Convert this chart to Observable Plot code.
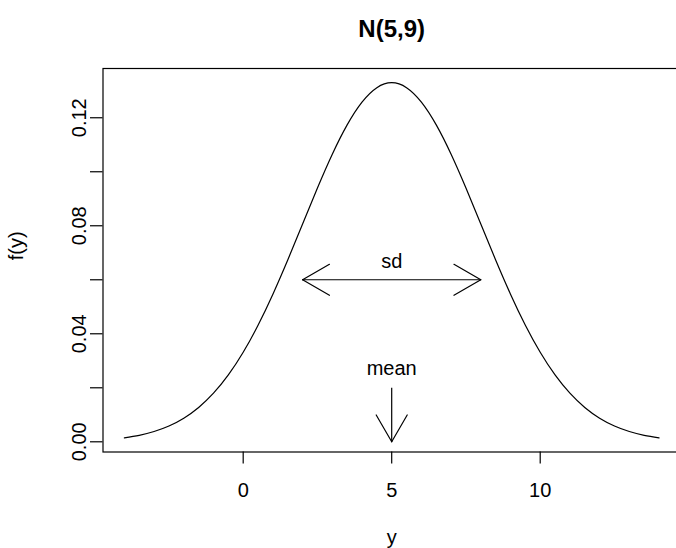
<!DOCTYPE html>
<html><head><meta charset="utf-8">
<script src="https://cdn.jsdelivr.net/npm/d3@7"></script>
<script src="https://cdn.jsdelivr.net/npm/@observablehq/plot@0.6"></script>
<style>body{margin:0;background:#fff;overflow:hidden} svg{display:block}</style>
</head><body><div id="chart"></div>
<script>
const title = "N(5,9)";
const xLabel = "y";
const yLabel = "f(y)";
const xValues = [-4,-3.5,-3,-2.5,-2,-1.5,-1,-0.5,0,0.5,1,1.5,2,2.5,3,3.5,4,4.5,5,5.5,6,6.5,7,7.5,8,8.5,9,9.5,10,10.5,11,11.5,12,12.5,13,13.5,14];
const density = [0.00148,0.00240,0.00380,0.00584,0.00874,0.01272,0.01800,0.02477,0.03316,0.04317,0.05467,0.06733,0.08066,0.09397,0.10648,0.11735,0.12579,0.13115,0.13298,0.13115,0.12579,0.11735,0.10648,0.09397,0.08066,0.06733,0.05467,0.04317,0.03316,0.02477,0.01800,0.01272,0.00874,0.00584,0.00380,0.00240,0.00148];
const xTicks = [0, 5, 10];
const yTicks = [0, 0.02, 0.04, 0.06, 0.08, 0.10, 0.12];
const yTickLabels = [0, 0.04, 0.08, 0.12];
const xDomain = [-4.72, 14.72];
const yDomain = [-0.00378, 0.13824];
const sdEnds = [2, 8];
const sdLevel = 0.06;
const sdText = {label: "sd", x: 5, y: 0.0644};
const meanValue = 5;
const meanArrowTop = 0.02;
const meanText = {label: "mean", x: 5, y: 0.0246};

const curveData = xValues.map((x, i) => ({x, y: density[i]}));
const barbs = [
  {x: sdEnds[0], y: sdLevel, r: 60}, {x: sdEnds[0], y: sdLevel, r: 120},
  {x: sdEnds[1], y: sdLevel, r: -60}, {x: sdEnds[1], y: sdLevel, r: -120},
  {x: meanValue, y: 0, r: -30}, {x: meanValue, y: 0, r: 30}
];
const lineShape = {draw(context, l) { context.moveTo(0, 0); context.lineTo(0, -l); }};

const chart = Plot.plot({
  width: 676,
  height: 548,
  marginLeft: 102.5,
  marginRight: -3.9,
  marginTop: 68,
  marginBottom: 96.5,
  style: {fontFamily: "'Liberation Sans', Arial, Helvetica, sans-serif", fontSize: "20px", background: "#fff", color: "#000"},
  x: {domain: xDomain},
  y: {domain: yDomain},
  marks: [
    Plot.frame({stroke: "#000", strokeWidth: 1.2}),
    Plot.axisX({ticks: xTicks, tickSize: 12, tickFormat: () => "", label: null, strokeWidth: 1.2}),
    Plot.axisY({ticks: yTicks, tickSize: 12.5, tickFormat: () => "", label: null, strokeWidth: 1.2}),
    Plot.text(xTicks, {x: d => d, frameAnchor: "bottom", dy: 45, lineAnchor: "bottom", text: d => String(d), fontSize: 20}),
    Plot.text(yTickLabels, {y: d => d, frameAnchor: "left", dx: -16.8, rotate: -90, lineAnchor: "bottom", textAnchor: "middle", text: d => d.toFixed(2), fontSize: 20}),
    Plot.text([xLabel], {frameAnchor: "bottom", dy: 92.2, lineAnchor: "bottom", text: d => d, fontSize: 20}),
    Plot.text([yLabel], {frameAnchor: "left", dx: -86.5, rotate: -90, lineAnchor: "middle", text: d => d, fontSize: 20}),
    Plot.text([title], {frameAnchor: "top", dy: -32, lineAnchor: "bottom", text: d => d, fontSize: 24, fontWeight: "bold"}),
    Plot.line(curveData, {x: "x", y: "y", curve: "natural", stroke: "#000", strokeWidth: 1.2}),
    Plot.link([{x1: sdEnds[0], x2: sdEnds[1], y: sdLevel}], {x1: "x1", x2: "x2", y1: "y", y2: "y", stroke: "#000", strokeWidth: 1.2}),
    Plot.link([{x: meanValue, y1: meanArrowTop, y2: 0}], {x1: "x", x2: "x", y1: "y1", y2: "y2", stroke: "#000", strokeWidth: 1.2}),
    Plot.vector(barbs, {x: "x", y: "y", rotate: "r", length: 31, anchor: "start", shape: lineShape, stroke: "#000", strokeWidth: 1.2}),
    Plot.text([sdText], {x: "x", y: "y", text: "label", lineAnchor: "bottom", fontSize: 20}),
    Plot.text([meanText], {x: "x", y: "y", text: "label", lineAnchor: "bottom", fontSize: 20})
  ]
});
document.getElementById("chart").appendChild(chart);
</script>
</body></html>
